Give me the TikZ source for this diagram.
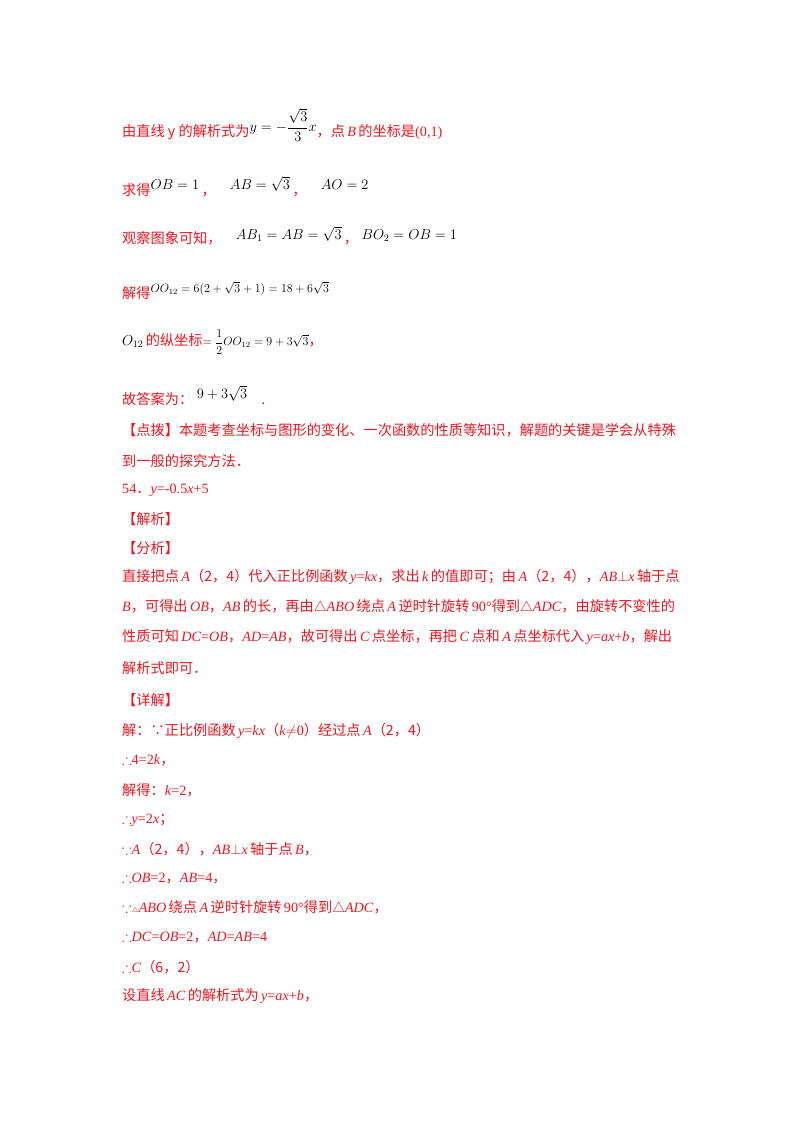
\documentclass[tikz,border=0pt]{standalone}
\usepackage{amsmath,amssymb}
\usepackage{fontspec}
\setmainfont{Liberation Serif}
\newfontfamily\cjk{Noto Sans CJK SC}
\newcommand\Z[1]{{\cjk #1}}
\newcommand\bk[1]{\textcolor{black}{#1}}
\newcommand\sm{\fontsize{12}{14}\selectfont}
\definecolor{rd}{RGB}{240,20,30}
\begin{document}
\begin{tikzpicture}[x=1pt,y=-1pt,
  ln/.style={anchor=west,inner sep=0pt,text=rd,font=\fontsize{14.2}{16}\selectfont}]
\useasboundingbox (0,0) rectangle (800,1132);
\node[ln] (l1) at (122,125) {\Z{由直线 y 的解析式为}\bk{\raisebox{5pt}{$y=-\dfrac{\sqrt3}{3}x$}}\Z{，点}\,\textit{B}\,\Z{的坐标是}(0,1)};
\node[ln] (l2) at (122,187) {\Z{求得}\bk{\raisebox{6pt}{$OB=1$}}\,\Z{，}\quad\bk{\raisebox{6pt}{$AB=\sqrt3$}}\,\Z{，}\quad\bk{\raisebox{6pt}{$AO=2$}}};
\node[ln] (l3) at (122,236) {\Z{观察图象可知，}\quad\bk{\raisebox{4pt}{$AB_1=AB=\sqrt3$}}\,\Z{，}\ \bk{\raisebox{4pt}{$BO_2=OB=1$}}};
\node[ln] (l4) at (122,291) {\Z{解得}\bk{\raisebox{6pt}{\sm$OO_{12}=6(2+\sqrt3+1)=18+6\sqrt3$}}};
\node[ln] (l5) at (122,342) {\bk{$O_{12}$}\,\Z{的纵坐标}\bk{\sm$=\dfrac12OO_{12}=9+3\sqrt3$}\Z{，}};
\node[ln] (l6) at (122,396) {\Z{故答案为：}\ \bk{\raisebox{6pt}{$9+3\sqrt3$}}\quad\Z{.}};
\node[ln] (l7) at (122,430) {\Z{【点拨】本题考查坐标与图形的变化、一次函数的性质等知识，解题的关键是学会从特殊}};
\node[ln] (l8) at (122,461) {\Z{到一般的探究方法．}};
\node[ln] (l9) at (122,490) {54\Z{．}\textit{y}=-0.5\textit{x}+5};
\node[ln] (l10) at (122,519) {\Z{【解析】}};
\node[ln] (l11) at (122,548) {\Z{【分析】}};
\node[ln] (l12) at (122,577) {\Z{直接把点}\,\textit{A}\Z{（2，4）代入正比例函数}\,\textit{y}=\textit{kx}\Z{，求出}\,\textit{k}\,\Z{的值即可；由}\,\textit{A}\Z{（2，4），}\textit{AB}$\perp$\textit{x}\,\Z{轴于点}};
\node[ln] (l13) at (122,607) {\textit{B}\Z{，可得出}\,\textit{OB}\Z{，}\textit{AB}\,\Z{的长，再由}$\triangle$\textit{ABO}\,\Z{绕点}\,\textit{A}\,\Z{逆时针旋转}\,90°\Z{得到}$\triangle$\textit{ADC}\Z{，由旋转不变性的}};
\node[ln] (l14) at (122,637) {\Z{性质可知}\,\textit{DC}=\textit{OB}\Z{，}\textit{AD}=\textit{AB}\Z{，故可得出}\,\textit{C}\,\Z{点坐标，再把}\,\textit{C}\,\Z{点和}\,\textit{A}\,\Z{点坐标代入}\,\textit{y}=\textit{ax}+\textit{b}\Z{，解出}};
\node[ln] (l15) at (122,668) {\Z{解析式即可．}};
\node[ln] (l16) at (122,700) {\Z{【详解】}};
\node[ln] (l17) at (122,731) {\Z{解：∵正比例函数}\,\textit{y}=\textit{kx}\Z{（}\textit{k}$\neq$0\Z{）经过点}\,\textit{A}\Z{（2，4）}};
\node[ln] (l18) at (122,760) {$\therefore$4=2\textit{k}\Z{，}};
\node[ln] (l19) at (122,790) {\Z{解得：}\textit{k}=2\Z{，}};
\node[ln] (l20) at (122,820) {$\therefore$\textit{y}=2\textit{x}\Z{；}};
\node[ln] (l21) at (122,849) {$\because$\textit{A}\Z{（2，4），}\textit{AB}$\perp$\textit{x}\,\Z{轴于点}\,\textit{B}\Z{，}};
\node[ln] (l22) at (122,878) {$\therefore$\textit{OB}=2\Z{，}\textit{AB}=4\Z{，}};
\node[ln] (l23) at (122,908) {$\because${\scriptsize$\triangle$}\textit{ABO}\,\Z{绕点}\,\textit{A}\,\Z{逆时针旋转}\,90°\Z{得到}$\triangle$\textit{ADC}\Z{，}};
\node[ln] (l24) at (122,937) {$\therefore$\textit{DC}=\textit{OB}=2\Z{，}\textit{AD}=\textit{AB}=4};
\node[ln] (l25) at (122,967) {$\therefore$\textit{C}\Z{（6，2）}};
\node[ln] (l26) at (122,996) {\Z{设直线}\,\textit{AC}\,\Z{的解析式为}\,\textit{y}=\textit{ax}+\textit{b}\Z{，}};
\end{tikzpicture}
\end{document}
